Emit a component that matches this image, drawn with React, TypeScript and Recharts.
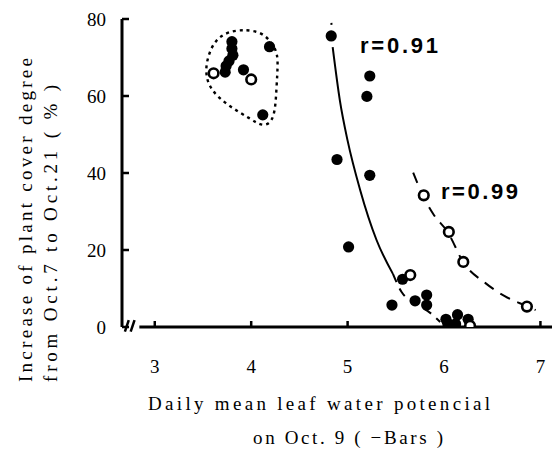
import { ComposedChart, XAxis, YAxis, Scatter, Line, ReferenceLine } from 'recharts'

const xTicks = [3, 4, 5, 6, 7]
const yTicks = [0, 20, 40, 60, 80]

// closed circles
const filledPoints = [
  { x: 3.8, y: 74.1 }, { x: 3.8, y: 72.3 }, { x: 3.81, y: 70.6 }, { x: 3.77, y: 69.1 },
  { x: 3.74, y: 67.8 }, { x: 3.73, y: 66.2 }, { x: 3.92, y: 66.8 }, { x: 4.19, y: 72.8 },
  { x: 4.12, y: 55.1 },
  { x: 4.83, y: 75.6 }, { x: 5.23, y: 65.2 }, { x: 5.2, y: 59.9 }, { x: 4.89, y: 43.5 },
  { x: 5.23, y: 39.4 }, { x: 5.01, y: 20.8 }, { x: 5.57, y: 12.4 }, { x: 5.46, y: 5.7 },
  { x: 5.7, y: 6.8 }, { x: 5.82, y: 8.3 }, { x: 5.82, y: 5.7 },
  { x: 6.02, y: 2.0 }, { x: 6.04, y: 0.9 }, { x: 6.14, y: 3.2 }, { x: 6.12, y: 0.8 }, { x: 6.25, y: 2.0 },
]

// open circles
const openPoints = [
  { x: 3.61, y: 65.9 }, { x: 4.0, y: 64.3 },
  { x: 5.65, y: 13.5 }, { x: 6.27, y: 0.3 },
  { x: 5.79, y: 34.2 }, { x: 6.05, y: 24.7 }, { x: 6.2, y: 16.9 }, { x: 6.86, y: 5.3 },
]

// fitted curve r=0.91 (solid part, dashed tail)
const curve91Top = [{ x: 4.832, y: 79 }, { x: 4.845, y: 72.7 }]
const curve91 = [
  { x: 4.845, y: 72.7 }, { x: 4.92, y: 58.8 }, { x: 5.0, y: 48.4 }, { x: 5.13, y: 35.6 },
  { x: 5.3, y: 22.6 }, { x: 5.47, y: 13.8 },
]
const curve91Tail = [
  { x: 5.47, y: 13.8 }, { x: 5.56, y: 9.1 }, { x: 5.75, y: 5.5 }, { x: 5.86, y: 3.6 }, { x: 5.96, y: 1.3 },
]

// fitted curve r=0.99
const curve99 = [
  { x: 5.68, y: 40.1 }, { x: 5.78, y: 34.2 }, { x: 5.89, y: 29.3 }, { x: 6.04, y: 24.6 },
  { x: 6.2, y: 16.8 }, { x: 6.43, y: 11.4 }, { x: 6.63, y: 8.0 }, { x: 6.86, y: 5.4 }, { x: 6.95, y: 4.4 },
]

// dotted outline around the left group
const outline = [
  { x: 3.761, y: 76.8 }, { x: 3.952, y: 77.3 }, { x: 4.135, y: 76.4 }, { x: 4.26, y: 72.2 },
  { x: 4.28, y: 69.1 }, { x: 4.262, y: 62.2 }, { x: 4.245, y: 53.8 }, { x: 4.13, y: 51.8 },
  { x: 3.987, y: 54.2 }, { x: 3.77, y: 57.3 }, { x: 3.575, y: 61.5 }, { x: 3.52, y: 66.1 },
  { x: 3.555, y: 70.8 }, { x: 3.63, y: 74.6 },
]

const serif = 'Liberation Serif, DejaVu Serif, serif'
const sans = 'Liberation Sans, Arial, sans-serif'

const Dot = (p: any) => <circle cx={p.cx} cy={p.cy} r={5.6} fill="#000" />
const Ring = (p: any) => <circle cx={p.cx} cy={p.cy} r={4.8} fill="#fff" stroke="#000" strokeWidth={2.6} />

export default function App() {
  const tick = { fontSize: 19, fill: '#000', fontFamily: serif }
  const serifText = { fontFamily: serif, fontSize: 19 }
  return (
    <div style={{ position: 'absolute', left: 0, top: 0, width: 553, height: 449, background: '#fff' }}>
      <ComposedChart width={553} height={449} margin={{ top: 19, right: 1, bottom: 92, left: 82 }}>
        <XAxis
          type="number"
          dataKey="x"
          domain={[2.66, 7.12]}
          ticks={xTicks}
          allowDataOverflow
          axisLine={false}
          tickLine={{ stroke: '#000', strokeWidth: 2.5 }}
          tickSize={-6}
          tickMargin={39}
          height={30}
          tick={tick}
        />
        <YAxis
          type="number"
          dataKey="y"
          domain={[0, 80]}
          ticks={yTicks}
          allowDataOverflow
          axisLine={{ stroke: '#000', strokeWidth: 3 }}
          tickLine={{ stroke: '#000', strokeWidth: 2.5 }}
          tickSize={-7}
          tickMargin={23}
          width={40}
          tick={tick}
        />
        {/* x axis line with break near origin */}
        <ReferenceLine segment={[{ x: 2.84, y: 0 }, { x: 7.12, y: 0 }]} stroke="#000" strokeWidth={3} ifOverflow="visible" />
        <ReferenceLine segment={[{ x: 2.69, y: -1.2 }, { x: 2.73, y: 1.8 }]} stroke="#000" strokeWidth={2.5} ifOverflow="visible" />
        <ReferenceLine segment={[{ x: 2.75, y: -1.2 }, { x: 2.79, y: 1.8 }]} stroke="#000" strokeWidth={2.5} ifOverflow="visible" />

        <Line data={outline} dataKey="y" type="basisClosed" stroke="#000" strokeWidth={2.4} strokeDasharray="3 4" dot={false} activeDot={false} isAnimationActive={false} />
        <Line data={curve91Top} dataKey="y" type="linear" stroke="#000" strokeWidth={2} strokeDasharray="2 30" dot={false} activeDot={false} isAnimationActive={false} />
        <Line data={curve91} dataKey="y" type="monotone" stroke="#000" strokeWidth={2} dot={false} activeDot={false} isAnimationActive={false} />
        <Line data={curve91Tail} dataKey="y" type="monotone" stroke="#000" strokeWidth={2} strokeDasharray="9 7" dot={false} activeDot={false} isAnimationActive={false} />
        <Line data={curve99} dataKey="y" type="monotone" stroke="#000" strokeWidth={2} strokeDasharray="11 8" dot={false} activeDot={false} isAnimationActive={false} />

        <Scatter data={filledPoints} shape={Dot} isAnimationActive={false} />
        <Scatter data={openPoints} shape={Ring} isAnimationActive={false} />
      </ComposedChart>

      <svg width={553} height={449} style={{ position: 'absolute', left: 0, top: 0, pointerEvents: 'none' }}>
        <text x={360} y={53} textLength={78} lengthAdjust="spacing" fontFamily={sans} fontWeight="bold" fontSize={22}>r=0.91</text>
        <text x={441} y={199} textLength={77} lengthAdjust="spacing" fontFamily={sans} fontWeight="bold" fontSize={22}>r=0.99</text>

        <text x={148} y={410} textLength={342} lengthAdjust="spacing" {...serifText}>Daily mean leaf water potencial</text>
        <text x={253} y={444} textLength={190} lengthAdjust="spacing" {...serifText}>on Oct. 9 ( −Bars )</text>

        <text transform="translate(32,382) rotate(-90)" textLength={324} lengthAdjust="spacing" {...serifText}>Increase of plant cover degree</text>
        <text transform="translate(57,382) rotate(-90)" textLength={297} lengthAdjust="spacing" {...serifText}>from Oct.7 to Oct.21 ( % )</text>
      </svg>
    </div>
  )
}
